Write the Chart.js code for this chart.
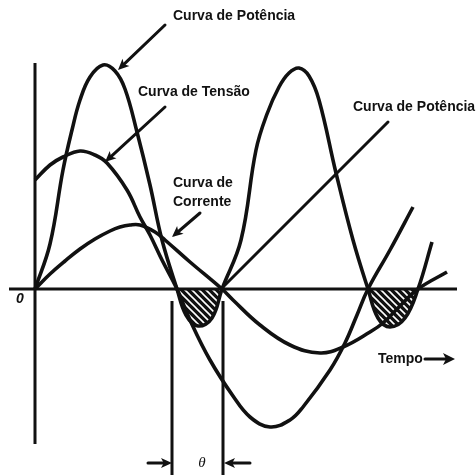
<!DOCTYPE html>
<html>
<head>
<meta charset="utf-8">
<script src="https://cdn.jsdelivr.net/npm/chart.js"></script>
<style>
html,body{margin:0;padding:0;background:#fff;}
#c{display:block;}
</style>
</head>
<body>
<canvas id="c" width="476" height="475"></canvas>
<script>
// Time (x) and value (y); origin at the axes crossing.
const powerCurve = [[0,0],[15,45],[28,119],[37,159],[45,189],[55,212],[68,224],[80,218],[90,200],[102,157],[115,104],[127,49],[142,0],[151,-26],[163,-37],[177,-29],[187,0],[206,49],[221,139],[232,175],[244,202],[254,216],[264,221],[274,213],[284,189],[301,116],[318,49],[333,0],[343,-29],[355,-38],[370,-29],[383,0],[397,47]];
const voltageCurve = [[0,109],[15,124],[28,132],[45,138],[60,134],[72,126],[92,99],[105,72],[115,54],[127,29],[142,0],[155,-31],[175,-71],[198,-107],[215,-128],[235,-138],[255,-131],[268,-118],[295,-81],[310,-54],[322,-26],[333,0],[355,39],[378,82]];
const currentCurve = [[0,0],[15,15],[30,28],[45,40],[60,50],[75,58],[85,62],[95,64],[105,64],[120,57],[130,49],[155,27],[187,0],[198,-11],[225,-36],[255,-56],[285,-64],[308,-58],[335,-43],[348,-34],[365,-17],[383,0],[412,17]];
const timeAxis = [[-26,0],[422,0]];
const valueAxis = [[0,226],[0,-155]];
const thetaLeft = [[137,-12],[137,-190]];
const thetaRight = [[188,-12],[188,-190]];

const labels = [
  {text:'Curva de Potência', x:138, y:273},
  {text:'Curva de Tensão', x:103, y:197},
  {text:'Curva de', x:138, y:106},
  {text:'Corrente', x:138, y:87},
  {text:'Curva de Potência', x:318, y:182},
  {text:'Tempo', x:343, y:-70}
];
const arrows = [
  {from:[130,264], to:[83,219], head:true},
  {from:[130,182], to:[70,127], head:true},
  {from:[165,76], to:[137,52], head:true},
  {from:[353,167], to:[186,0], head:false},
  {from:[390,-70], to:[420,-70], head:true, big:true},
  {from:[113,-174], to:[137,-174], head:true},
  {from:[215,-174], to:[189,-174], head:true}
];

const toPts = a => a.map(p => ({x:p[0], y:p[1]}));

function hatch(){
  const c = document.createElement('canvas');
  c.width = 7; c.height = 7;
  const g = c.getContext('2d');
  g.fillStyle = '#111';
  g.fillRect(0,0,7,7);
  g.strokeStyle = '#fff';
  g.lineWidth = 1.6;
  g.beginPath();
  g.moveTo(-2,-2); g.lineTo(9,9);
  g.moveTo(-9,-2); g.lineTo(2,9);
  g.moveTo(5,-2); g.lineTo(16,9);
  g.stroke();
  return document.getElementById('c').getContext('2d').createPattern(c,'repeat');
}

const ink = '#111';
const curve = (data, extra) => Object.assign({
  data: toPts(data), borderColor: ink, borderWidth: 3.6, pointRadius: 0,
  tension: 0.4, fill: false
}, extra || {});
const straight = (data, w) => ({
  data: toPts(data), borderColor: ink, borderWidth: w, pointRadius: 0, tension: 0, fill: false
});

const annot = {
  id: 'annot',
  afterDatasetsDraw(chart){
    const ctx = chart.ctx, sx = chart.scales.x, sy = chart.scales.y;
    const P = (x,y) => [sx.getPixelForValue(x), sy.getPixelForValue(y)];
    ctx.save();
    ctx.strokeStyle = ink; ctx.fillStyle = ink; ctx.lineCap = 'round';
    arrows.forEach(a => {
      const [x1,y1] = P(a.from[0],a.from[1]);
      const [x2,y2] = P(a.to[0],a.to[1]);
      const ang = Math.atan2(y2-y1, x2-x1);
      const L = a.big ? 12 : 11, W = a.big ? 6 : 5;
      ctx.lineWidth = 3;
      ctx.beginPath();
      ctx.moveTo(x1,y1);
      const ex = a.head ? x2 - Math.cos(ang)*L*0.7 : x2;
      const ey = a.head ? y2 - Math.sin(ang)*L*0.7 : y2;
      ctx.lineTo(ex,ey);
      ctx.stroke();
      if (a.head){
        ctx.beginPath();
        ctx.moveTo(x2,y2);
        ctx.lineTo(x2 - Math.cos(ang)*L - Math.sin(ang)*W, y2 - Math.sin(ang)*L + Math.cos(ang)*W);
        ctx.lineTo(x2 - Math.cos(ang)*L*0.75, y2 - Math.sin(ang)*L*0.75);
        ctx.lineTo(x2 - Math.cos(ang)*L + Math.sin(ang)*W, y2 - Math.sin(ang)*L - Math.cos(ang)*W);
        ctx.closePath();
        ctx.fill();
      }
    });
    ctx.font = 'bold 14px "Liberation Sans", Arial, sans-serif';
    ctx.textBaseline = 'middle'; ctx.textAlign = 'left';
    labels.forEach(l => {
      const [x,y] = P(l.x,l.y);
      ctx.fillText(l.text, x, y);
    });
    ctx.font = 'italic bold 14px "Liberation Sans", Arial, sans-serif';
    ctx.textAlign = 'center';
    let [ox,oy] = P(-15,-10);
    ctx.fillText('0', ox, oy);
    ctx.font = 'italic 15px "Liberation Serif", "DejaVu Serif", serif';
    [ox,oy] = P(167,-174);
    ctx.fillText('θ', ox, oy);
    ctx.restore();
  }
};

new Chart(document.getElementById('c'), {
  type: 'line',
  data: {
    datasets: [
      straight(timeAxis, 3),
      straight(valueAxis, 3),
      straight(thetaLeft, 3),
      straight(thetaRight, 3),
      curve(voltageCurve),
      curve(currentCurve),
      curve(powerCurve, {fill: {target: 'origin', above: 'rgba(0,0,0,0)', below: hatch()}})
    ]
  },
  options: {
    responsive: false,
    animation: false,
    layout: {padding: 0},
    plugins: {legend: {display: false}, tooltip: {enabled: false}},
    scales: {
      x: {type: 'linear', min: -35, max: 441, display: false},
      y: {type: 'linear', min: -186, max: 289, display: false}
    }
  },
  plugins: [annot]
});
</script>
</body>
</html>
